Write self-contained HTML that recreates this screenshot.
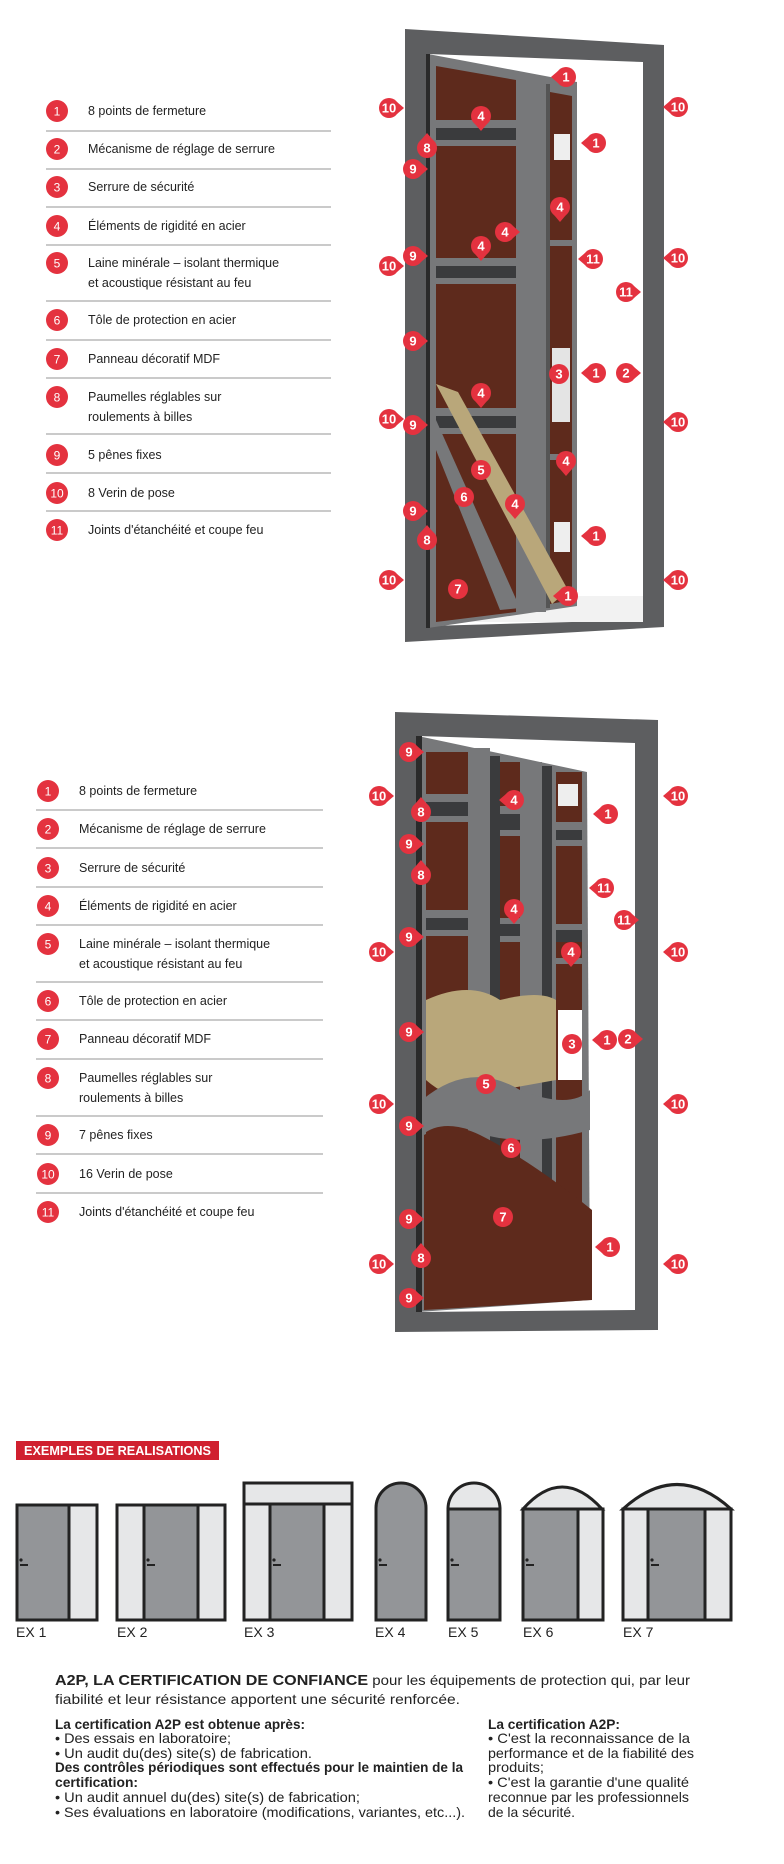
<!DOCTYPE html>
<html><head><meta charset="utf-8"><style>
html,body{margin:0;padding:0;background:#fff;}
svg{display:block;font-family:"Liberation Sans",sans-serif;}
.mk circle,.mk path{fill:#e4323f;}
.mk text{fill:#fff;font-weight:bold;font-size:13px;text-anchor:middle;}
.li circle{fill:#e4323f;}
.li text{fill:#fff;font-size:12px;text-anchor:middle;}
.lt{font-size:12.5px;fill:#222;}
.ln{stroke:#aaa;stroke-width:1.2;}
.bt{font-family:"Liberation Sans Narrow","Liberation Sans",sans-serif;font-size:14px;fill:#222;}
.fr{fill:#5d5e60;}
.st{fill:#77787a;}
.wd{fill:#5e2a1c;}
.dk{fill:#3a3b3d;}
.ins{fill:#b9a77a;}
.ex{fill:#939598;stroke:#222;stroke-width:3;}
.gl{fill:#e6e7e8;stroke:#222;stroke-width:3;}
.exl{font-family:"Liberation Sans Narrow","Liberation Sans",sans-serif;font-size:14px;fill:#222;}
</style></head><body>
<svg width="784" height="1864" viewBox="0 0 784 1864" xmlns="http://www.w3.org/2000/svg">

<!-- ===== LIST 1 ===== -->
<g>
<line class="ln" x1="46" y1="131" x2="331" y2="131"/>
<line class="ln" x1="46" y1="169" x2="331" y2="169"/>
<line class="ln" x1="46" y1="207" x2="331" y2="207"/>
<line class="ln" x1="46" y1="245" x2="331" y2="245"/>
<line class="ln" x1="46" y1="301" x2="331" y2="301"/>
<line class="ln" x1="46" y1="340" x2="331" y2="340"/>
<line class="ln" x1="46" y1="378" x2="331" y2="378"/>
<line class="ln" x1="46" y1="434" x2="331" y2="434"/>
<line class="ln" x1="46" y1="473" x2="331" y2="473"/>
<line class="ln" x1="46" y1="511" x2="331" y2="511"/>
<g class="li" transform="translate(57,111)"><circle r="11"/><text y="4.5">1</text></g>
<g class="li" transform="translate(57,149)"><circle r="11"/><text y="4.5">2</text></g>
<g class="li" transform="translate(57,187)"><circle r="11"/><text y="4.5">3</text></g>
<g class="li" transform="translate(57,226)"><circle r="11"/><text y="4.5">4</text></g>
<g class="li" transform="translate(57,263)"><circle r="11"/><text y="4.5">5</text></g>
<g class="li" transform="translate(57,320)"><circle r="11"/><text y="4.5">6</text></g>
<g class="li" transform="translate(57,359)"><circle r="11"/><text y="4.5">7</text></g>
<g class="li" transform="translate(57,397)"><circle r="11"/><text y="4.5">8</text></g>
<g class="li" transform="translate(57,455)"><circle r="11"/><text y="4.5">9</text></g>
<g class="li" transform="translate(57,493)"><circle r="11"/><text y="4.5">10</text></g>
<g class="li" transform="translate(57,530)"><circle r="11"/><text y="4.5">11</text></g>
<text class="lt" x="88" y="115">8 points de fermeture</text>
<text class="lt" x="88" y="153">Mécanisme de réglage de serrure</text>
<text class="lt" x="88" y="191">Serrure de sécurité</text>
<text class="lt" x="88" y="230">Éléments de rigidité en acier</text>
<text class="lt" x="88" y="267">Laine minérale – isolant thermique</text>
<text class="lt" x="88" y="287">et acoustique résistant au feu</text>
<text class="lt" x="88" y="324">Tôle de protection en acier</text>
<text class="lt" x="88" y="363">Panneau décoratif MDF</text>
<text class="lt" x="88" y="401">Paumelles réglables sur</text>
<text class="lt" x="88" y="421">roulements à billes</text>
<text class="lt" x="88" y="459">5 pênes fixes</text>
<text class="lt" x="88" y="497">8 Verin de pose</text>
<text class="lt" x="88" y="534">Joints d'étanchéité et coupe feu</text>
</g>

<!-- ===== DOOR 1 ===== -->
<g>
<polygon class="fr" points="405,29 664,45 664,627 405,642"/>
<polygon fill="#fff" points="428,54 643,62 643,620 428,626"/>
<rect x="428" y="596" width="215" height="26" fill="#f2f2f2"/>
<polygon class="st" points="428,54 577,82 577,606 428,628"/>
<rect x="426" y="54" width="4" height="574" fill="#2a2a2a"/>
<polygon class="wd" points="436,66 516,80 516,612 436,622"/>
<rect x="436" y="120" width="80" height="8" class="st"/>
<rect x="436" y="128" width="80" height="12" class="dk"/>
<rect x="436" y="140" width="80" height="6" class="st"/>
<rect x="436" y="258" width="80" height="8" class="st"/>
<rect x="436" y="266" width="80" height="12" class="dk"/>
<rect x="436" y="278" width="80" height="6" class="st"/>
<rect x="436" y="408" width="80" height="8" class="st"/>
<rect x="436" y="416" width="80" height="12" class="dk"/>
<rect x="436" y="428" width="80" height="6" class="st"/>
<rect x="516" y="80" width="30" height="532" class="st"/>
<polygon class="wd" points="550,92 572,96 572,600 550,604"/>
<rect x="546" y="84" width="4" height="524" fill="#555"/>
<rect x="550" y="240" width="22" height="6" class="st"/>
<rect x="550" y="454" width="22" height="6" class="st"/>
<rect x="554" y="134" width="16" height="26" fill="#eee"/>
<rect x="552" y="348" width="18" height="74" fill="#e4e4e4"/>
<rect x="554" y="522" width="16" height="30" fill="#eee"/>
<polygon class="ins" points="436,384 458,392 568,590 552,604"/>
<polygon class="st" points="436,420 436,450 500,610 520,608"/>
<!-- markers -->
<g class="mk" transform="translate(389,108)"><circle r="10"/><path d="M8 -6L15 0L8 6Z"/><text y="4.5">10</text></g>
<g class="mk" transform="translate(481,116)"><circle r="10"/><path d="M-6 8L0 15L6 8Z"/><text y="4.5">4</text></g>
<g class="mk" transform="translate(566,77)"><circle r="10"/><path d="M-8 -6L-15 0L-8 6Z"/><text y="4.5">1</text></g>
<g class="mk" transform="translate(427,148)"><circle r="10"/><path d="M-6 -8L0 -15L6 -8Z"/><text y="4.5">8</text></g>
<g class="mk" transform="translate(596,143)"><circle r="10"/><path d="M-8 -6L-15 0L-8 6Z"/><text y="4.5">1</text></g>
<g class="mk" transform="translate(413,169)"><circle r="10"/><path d="M8 -6L15 0L8 6Z"/><text y="4.5">9</text></g>
<g class="mk" transform="translate(560,207)"><circle r="10"/><path d="M-6 8L0 15L6 8Z"/><text y="4.5">4</text></g>
<g class="mk" transform="translate(505,232)"><circle r="10"/><path d="M8 -6L15 0L8 6Z"/><text y="4.5">4</text></g>
<g class="mk" transform="translate(481,246)"><circle r="10"/><path d="M-6 8L0 15L6 8Z"/><text y="4.5">4</text></g>
<g class="mk" transform="translate(389,266)"><circle r="10"/><path d="M8 -6L15 0L8 6Z"/><text y="4.5">10</text></g>
<g class="mk" transform="translate(413,256)"><circle r="10"/><path d="M8 -6L15 0L8 6Z"/><text y="4.5">9</text></g>
<g class="mk" transform="translate(593,259)"><circle r="10"/><path d="M-8 -6L-15 0L-8 6Z"/><text y="4.5">11</text></g>
<g class="mk" transform="translate(678,107)"><circle r="10"/><path d="M-8 -6L-15 0L-8 6Z"/><text y="4.5">10</text></g>
<g class="mk" transform="translate(678,258)"><circle r="10"/><path d="M-8 -6L-15 0L-8 6Z"/><text y="4.5">10</text></g>
<g class="mk" transform="translate(626,292)"><circle r="10"/><path d="M8 -6L15 0L8 6Z"/><text y="4.5">11</text></g>
<g class="mk" transform="translate(413,341)"><circle r="10"/><path d="M8 -6L15 0L8 6Z"/><text y="4.5">9</text></g>
<g class="mk" transform="translate(559,374)"><circle r="10"/><text y="4.5">3</text></g>
<g class="mk" transform="translate(596,373)"><circle r="10"/><path d="M-8 -6L-15 0L-8 6Z"/><text y="4.5">1</text></g>
<g class="mk" transform="translate(626,373)"><circle r="10"/><path d="M8 -6L15 0L8 6Z"/><text y="4.5">2</text></g>
<g class="mk" transform="translate(481,393)"><circle r="10"/><path d="M-6 8L0 15L6 8Z"/><text y="4.5">4</text></g>
<g class="mk" transform="translate(389,419)"><circle r="10"/><path d="M8 -6L15 0L8 6Z"/><text y="4.5">10</text></g>
<g class="mk" transform="translate(413,425)"><circle r="10"/><path d="M8 -6L15 0L8 6Z"/><text y="4.5">9</text></g>
<g class="mk" transform="translate(678,422)"><circle r="10"/><path d="M-8 -6L-15 0L-8 6Z"/><text y="4.5">10</text></g>
<g class="mk" transform="translate(481,470)"><circle r="10"/><text y="4.5">5</text></g>
<g class="mk" transform="translate(566,461)"><circle r="10"/><path d="M-6 8L0 15L6 8Z"/><text y="4.5">4</text></g>
<g class="mk" transform="translate(464,497)"><circle r="10"/><text y="4.5">6</text></g>
<g class="mk" transform="translate(515,504)"><circle r="10"/><path d="M-6 8L0 15L6 8Z"/><text y="4.5">4</text></g>
<g class="mk" transform="translate(413,511)"><circle r="10"/><path d="M8 -6L15 0L8 6Z"/><text y="4.5">9</text></g>
<g class="mk" transform="translate(427,540)"><circle r="10"/><path d="M-6 -8L0 -15L6 -8Z"/><text y="4.5">8</text></g>
<g class="mk" transform="translate(596,536)"><circle r="10"/><path d="M-8 -6L-15 0L-8 6Z"/><text y="4.5">1</text></g>
<g class="mk" transform="translate(389,580)"><circle r="10"/><path d="M8 -6L15 0L8 6Z"/><text y="4.5">10</text></g>
<g class="mk" transform="translate(458,589)"><circle r="10"/><text y="4.5">7</text></g>
<g class="mk" transform="translate(568,596)"><circle r="10"/><path d="M-8 -6L-15 0L-8 6Z"/><text y="4.5">1</text></g>
<g class="mk" transform="translate(678,580)"><circle r="10"/><path d="M-8 -6L-15 0L-8 6Z"/><text y="4.5">10</text></g>
</g>

<!-- ===== LIST 2 ===== -->
<g>
<line class="ln" x1="36" y1="810" x2="323" y2="810"/>
<line class="ln" x1="36" y1="848" x2="323" y2="848"/>
<line class="ln" x1="36" y1="887" x2="323" y2="887"/>
<line class="ln" x1="36" y1="925" x2="323" y2="925"/>
<line class="ln" x1="36" y1="982" x2="323" y2="982"/>
<line class="ln" x1="36" y1="1020" x2="323" y2="1020"/>
<line class="ln" x1="36" y1="1059" x2="323" y2="1059"/>
<line class="ln" x1="36" y1="1116" x2="323" y2="1116"/>
<line class="ln" x1="36" y1="1154" x2="323" y2="1154"/>
<line class="ln" x1="36" y1="1193" x2="323" y2="1193"/>
<g class="li" transform="translate(48,791)"><circle r="11"/><text y="4.5">1</text></g>
<g class="li" transform="translate(48,829)"><circle r="11"/><text y="4.5">2</text></g>
<g class="li" transform="translate(48,868)"><circle r="11"/><text y="4.5">3</text></g>
<g class="li" transform="translate(48,906)"><circle r="11"/><text y="4.5">4</text></g>
<g class="li" transform="translate(48,944)"><circle r="11"/><text y="4.5">5</text></g>
<g class="li" transform="translate(48,1001)"><circle r="11"/><text y="4.5">6</text></g>
<g class="li" transform="translate(48,1039)"><circle r="11"/><text y="4.5">7</text></g>
<g class="li" transform="translate(48,1078)"><circle r="11"/><text y="4.5">8</text></g>
<g class="li" transform="translate(48,1135)"><circle r="11"/><text y="4.5">9</text></g>
<g class="li" transform="translate(48,1174)"><circle r="11"/><text y="4.5">10</text></g>
<g class="li" transform="translate(48,1212)"><circle r="11"/><text y="4.5">11</text></g>
<text class="lt" x="79" y="795">8 points de fermeture</text>
<text class="lt" x="79" y="833">Mécanisme de réglage de serrure</text>
<text class="lt" x="79" y="872">Serrure de sécurité</text>
<text class="lt" x="79" y="910">Éléments de rigidité en acier</text>
<text class="lt" x="79" y="948">Laine minérale – isolant thermique</text>
<text class="lt" x="79" y="968">et acoustique résistant au feu</text>
<text class="lt" x="79" y="1005">Tôle de protection en acier</text>
<text class="lt" x="79" y="1043">Panneau décoratif MDF</text>
<text class="lt" x="79" y="1082">Paumelles réglables sur</text>
<text class="lt" x="79" y="1102">roulements à billes</text>
<text class="lt" x="79" y="1139">7 pênes fixes</text>
<text class="lt" x="79" y="1178">16 Verin de pose</text>
<text class="lt" x="79" y="1216">Joints d'étanchéité et coupe feu</text>
</g>

<!-- ===== DOOR 2 ===== -->
<g>
<polygon class="fr" points="395,712 658,720 658,1330 395,1332"/>
<polygon fill="#fff" points="418,736 635,743 635,1310 418,1312"/>
<polygon class="st" points="418,736 587,772 590,1300 418,1312"/>
<rect x="416" y="736" width="6" height="576" fill="#2a2a2a"/>
<rect x="426" y="752" width="42" height="520" class="wd"/>
<rect x="500" y="762" width="20" height="500" class="wd"/>
<rect x="556" y="772" width="26" height="490" class="wd"/>
<rect x="468" y="748" width="22" height="540" class="st"/>
<rect x="490" y="756" width="10" height="520" class="dk"/>
<rect x="520" y="762" width="22" height="520" class="st"/>
<rect x="542" y="766" width="10" height="510" class="dk"/>
<g class="st">
<rect x="426" y="794" width="42" height="8"/><rect x="426" y="816" width="42" height="6"/>
<rect x="426" y="910" width="42" height="8"/><rect x="426" y="930" width="42" height="6"/>
<rect x="500" y="806" width="20" height="8"/><rect x="500" y="830" width="20" height="6"/>
<rect x="500" y="918" width="20" height="6"/><rect x="500" y="936" width="20" height="6"/>
<rect x="556" y="822" width="26" height="8"/><rect x="556" y="840" width="26" height="6"/>
<rect x="556" y="924" width="26" height="6"/><rect x="556" y="958" width="26" height="6"/>
</g>
<g class="dk">
<rect x="426" y="802" width="42" height="14"/><rect x="426" y="918" width="42" height="12"/>
<rect x="500" y="814" width="20" height="16"/><rect x="500" y="924" width="20" height="12"/>
<rect x="556" y="830" width="26" height="10"/><rect x="556" y="930" width="26" height="12"/>
</g>
<rect x="558" y="784" width="20" height="22" fill="#eee"/>
<rect x="558" y="1010" width="24" height="70" fill="#fff"/>
<path class="ins" d="M426,1000 Q470,980 500,1000 L500,1090 Q460,1110 426,1080Z"/>
<path class="ins" d="M500,1000 Q540,990 556,1000 L556,1080 L500,1090Z"/>
<path class="st" d="M422,1100 Q470,1060 520,1090 Q570,1110 590,1090 L590,1130 Q520,1150 470,1130 Q440,1120 422,1135Z"/>
<path class="wd" d="M424,1135 Q450,1120 480,1135 Q530,1160 592,1210 L592,1300 L424,1310Z"/>
<g class="mk" transform="translate(409,752)"><circle r="10"/><path d="M8 -6L15 0L8 6Z"/><text y="4.5">9</text></g>
<g class="mk" transform="translate(379,796)"><circle r="10"/><path d="M8 -6L15 0L8 6Z"/><text y="4.5">10</text></g>
<g class="mk" transform="translate(421,812)"><circle r="10"/><path d="M-6 -8L0 -15L6 -8Z"/><text y="4.5">8</text></g>
<g class="mk" transform="translate(514,800)"><circle r="10"/><path d="M-8 -6L-15 0L-8 6Z"/><text y="4.5">4</text></g>
<g class="mk" transform="translate(608,814)"><circle r="10"/><path d="M-8 -6L-15 0L-8 6Z"/><text y="4.5">1</text></g>
<g class="mk" transform="translate(678,796)"><circle r="10"/><path d="M-8 -6L-15 0L-8 6Z"/><text y="4.5">10</text></g>
<g class="mk" transform="translate(409,844)"><circle r="10"/><path d="M8 -6L15 0L8 6Z"/><text y="4.5">9</text></g>
<g class="mk" transform="translate(421,875)"><circle r="10"/><path d="M-6 -8L0 -15L6 -8Z"/><text y="4.5">8</text></g>
<g class="mk" transform="translate(604,888)"><circle r="10"/><path d="M-8 -6L-15 0L-8 6Z"/><text y="4.5">11</text></g>
<g class="mk" transform="translate(624,920)"><circle r="10"/><path d="M8 -6L15 0L8 6Z"/><text y="4.5">11</text></g>
<g class="mk" transform="translate(514,909)"><circle r="10"/><path d="M-6 8L0 15L6 8Z"/><text y="4.5">4</text></g>
<g class="mk" transform="translate(409,937)"><circle r="10"/><path d="M8 -6L15 0L8 6Z"/><text y="4.5">9</text></g>
<g class="mk" transform="translate(379,952)"><circle r="10"/><path d="M8 -6L15 0L8 6Z"/><text y="4.5">10</text></g>
<g class="mk" transform="translate(571,952)"><circle r="10"/><path d="M-6 8L0 15L6 8Z"/><text y="4.5">4</text></g>
<g class="mk" transform="translate(678,952)"><circle r="10"/><path d="M-8 -6L-15 0L-8 6Z"/><text y="4.5">10</text></g>
<g class="mk" transform="translate(409,1032)"><circle r="10"/><path d="M8 -6L15 0L8 6Z"/><text y="4.5">9</text></g>
<g class="mk" transform="translate(572,1044)"><circle r="10"/><text y="4.5">3</text></g>
<g class="mk" transform="translate(607,1040)"><circle r="10"/><path d="M-8 -6L-15 0L-8 6Z"/><text y="4.5">1</text></g>
<g class="mk" transform="translate(628,1039)"><circle r="10"/><path d="M8 -6L15 0L8 6Z"/><text y="4.5">2</text></g>
<g class="mk" transform="translate(486,1084)"><circle r="10"/><text y="4.5">5</text></g>
<g class="mk" transform="translate(379,1104)"><circle r="10"/><path d="M8 -6L15 0L8 6Z"/><text y="4.5">10</text></g>
<g class="mk" transform="translate(678,1104)"><circle r="10"/><path d="M-8 -6L-15 0L-8 6Z"/><text y="4.5">10</text></g>
<g class="mk" transform="translate(409,1126)"><circle r="10"/><path d="M8 -6L15 0L8 6Z"/><text y="4.5">9</text></g>
<g class="mk" transform="translate(511,1148)"><circle r="10"/><text y="4.5">6</text></g>
<g class="mk" transform="translate(409,1219)"><circle r="10"/><path d="M8 -6L15 0L8 6Z"/><text y="4.5">9</text></g>
<g class="mk" transform="translate(503,1217)"><circle r="10"/><text y="4.5">7</text></g>
<g class="mk" transform="translate(610,1247)"><circle r="10"/><path d="M-8 -6L-15 0L-8 6Z"/><text y="4.5">1</text></g>
<g class="mk" transform="translate(379,1264)"><circle r="10"/><path d="M8 -6L15 0L8 6Z"/><text y="4.5">10</text></g>
<g class="mk" transform="translate(421,1258)"><circle r="10"/><path d="M-6 -8L0 -15L6 -8Z"/><text y="4.5">8</text></g>
<g class="mk" transform="translate(678,1264)"><circle r="10"/><path d="M-8 -6L-15 0L-8 6Z"/><text y="4.5">10</text></g>
<g class="mk" transform="translate(409,1298)"><circle r="10"/><path d="M8 -6L15 0L8 6Z"/><text y="4.5">9</text></g>
</g>

<!-- ===== EXEMPLES ===== -->
<rect x="16" y="1441" width="203" height="19" fill="#d0202f"/>
<text x="24" y="1455" font-family="Liberation Sans Narrow,Liberation Sans,sans-serif" font-weight="bold" font-size="13" fill="#fff" textLength="187" lengthAdjust="spacingAndGlyphs">EXEMPLES DE REALISATIONS</text>

<rect class="ex" x="17" y="1505" width="52" height="115"/>
<rect class="gl" x="69" y="1505" width="28" height="115"/>
<rect class="gl" x="117" y="1505" width="27" height="115"/>
<rect class="ex" x="144" y="1505" width="54" height="115"/>
<rect class="gl" x="198" y="1505" width="27" height="115"/>
<rect class="gl" x="244" y="1483" width="108" height="21"/>
<rect class="gl" x="244" y="1504" width="26" height="116"/>
<rect class="ex" x="270" y="1504" width="54" height="116"/>
<rect class="gl" x="324" y="1504" width="28" height="116"/>
<path class="ex" d="M376,1620 L376,1508 A25,25 0 0 1 426,1508 L426,1620Z"/>
<path class="gl" d="M448,1509 A26,26 0 0 1 500,1509Z"/>
<rect class="ex" x="448" y="1509" width="52" height="111"/>
<path class="gl" d="M523,1509 Q562,1465 602,1509Z"/>
<rect class="ex" x="523" y="1509" width="55" height="111"/>
<rect class="gl" x="578" y="1509" width="25" height="111"/>
<path class="gl" d="M623,1509 Q677,1460 731,1509Z"/>
<rect class="gl" x="623" y="1509" width="25" height="111"/>
<rect class="ex" x="648" y="1509" width="57" height="111"/>
<rect class="gl" x="705" y="1509" width="26" height="111"/>
<g fill="#222">
<circle cx="21" cy="1560" r="1.6"/><rect x="20" y="1564" width="8" height="2"/>
<circle cx="148" cy="1560" r="1.6"/><rect x="147" y="1564" width="8" height="2"/>
<circle cx="274" cy="1560" r="1.6"/><rect x="273" y="1564" width="8" height="2"/>
<circle cx="380" cy="1560" r="1.6"/><rect x="379" y="1564" width="8" height="2"/>
<circle cx="452" cy="1560" r="1.6"/><rect x="451" y="1564" width="8" height="2"/>
<circle cx="527" cy="1560" r="1.6"/><rect x="526" y="1564" width="8" height="2"/>
<circle cx="652" cy="1560" r="1.6"/><rect x="651" y="1564" width="8" height="2"/>
</g>
<text class="exl" x="16" y="1637">EX 1</text>
<text class="exl" x="117" y="1637">EX 2</text>
<text class="exl" x="244" y="1637">EX 3</text>
<text class="exl" x="375" y="1637">EX 4</text>
<text class="exl" x="448" y="1637">EX 5</text>
<text class="exl" x="523" y="1637">EX 6</text>
<text class="exl" x="623" y="1637">EX 7</text>

<!-- ===== TEXT ===== -->
<text class="bt" x="55" y="1685" font-size="15" textLength="635" lengthAdjust="spacingAndGlyphs"><tspan font-weight="bold" font-size="15">A2P, LA CERTIFICATION DE CONFIANCE</tspan> pour les équipements de protection qui, par leur</text>
<text class="bt" x="55" y="1704" font-size="15" textLength="405" lengthAdjust="spacingAndGlyphs">fiabilité et leur résistance apportent une sécurité renforcée.</text>

<text class="bt" x="55" y="1729" font-weight="bold" textLength="250" lengthAdjust="spacingAndGlyphs">La certification A2P est obtenue après:</text>
<text class="bt" x="55" y="1743" textLength="176" lengthAdjust="spacingAndGlyphs">•  Des essais en laboratoire;</text>
<text class="bt" x="55" y="1758" textLength="257" lengthAdjust="spacingAndGlyphs">•  Un audit du(des) site(s) de fabrication.</text>
<text class="bt" x="55" y="1772" font-weight="bold" textLength="408" lengthAdjust="spacingAndGlyphs">Des contrôles périodiques sont effectués pour le maintien de la</text>
<text class="bt" x="55" y="1787" font-weight="bold" textLength="83" lengthAdjust="spacingAndGlyphs">certification:</text>
<text class="bt" x="55" y="1802" textLength="305" lengthAdjust="spacingAndGlyphs">•  Un audit annuel du(des) site(s) de fabrication;</text>
<text class="bt" x="55" y="1817" textLength="410" lengthAdjust="spacingAndGlyphs">•  Ses évaluations en laboratoire (modifications, variantes, etc...).</text>

<text class="bt" x="488" y="1729" font-weight="bold" textLength="132" lengthAdjust="spacingAndGlyphs">La certification A2P:</text>
<text class="bt" x="488" y="1743" textLength="202" lengthAdjust="spacingAndGlyphs">•  C'est la reconnaissance de la</text>
<text class="bt" x="488" y="1758" textLength="206" lengthAdjust="spacingAndGlyphs">performance et de la fiabilité des</text>
<text class="bt" x="488" y="1772" textLength="56" lengthAdjust="spacingAndGlyphs">produits;</text>
<text class="bt" x="488" y="1787" textLength="201" lengthAdjust="spacingAndGlyphs">•  C'est la garantie d'une qualité</text>
<text class="bt" x="488" y="1802" textLength="201" lengthAdjust="spacingAndGlyphs">reconnue par les professionnels</text>
<text class="bt" x="488" y="1817" textLength="87" lengthAdjust="spacingAndGlyphs">de la sécurité.</text>
</svg>
</body></html>
